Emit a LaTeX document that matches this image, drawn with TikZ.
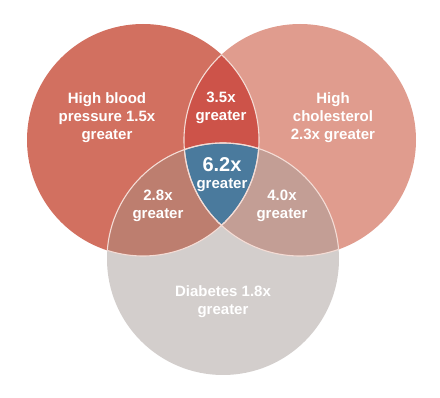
\documentclass[tikz,border=0pt]{standalone}
\usepackage{fontspec}
\setmainfont{Liberation Sans}
\definecolor{bpfill}{HTML}{D27060}
\definecolor{chfill}{HTML}{E09C8E}
\definecolor{dbfill}{HTML}{D3CECC}
\definecolor{bpch}{HTML}{CD5349}
\definecolor{bpdb}{HTML}{BD7E6F}
\definecolor{chdb}{HTML}{C39E95}
\definecolor{allthree}{HTML}{4A7A9D}
\definecolor{rimcol}{HTML}{F4DCD5}
\tikzset{
	rim/.style={draw=rimcol, line width=1.1pt}, % thin light edge where the sets cross
	venntext/.style={text=white, font=\bfseries\fontsize{15}{18}\selectfont, align=center}, % labels in the sets
	bigtext/.style={venntext, font=\bfseries\fontsize{15}{17}\selectfont}, % centre label
}
\begin{document}
\begin{tikzpicture}[x=1pt, y=-1pt]
	\useasboundingbox (0,0) rectangle (440,398);
	\def\rad{116pt}
	\coordinate (bp) at (143,140);
	\coordinate (ch) at (300,140);
	\coordinate (db) at (223,259);
	% the three sets
	\fill[bpfill] (bp) circle (\rad);
	\fill[chfill] (ch) circle (\rad);
	\fill[dbfill] (db) circle (\rad);
	% overlaps
	\begin{scope}
		\clip (bp) circle (\rad);
		\fill[bpdb] (db) circle (\rad);
		\fill[bpch] (ch) circle (\rad);
		\clip (ch) circle (\rad);
		\fill[allthree] (db) circle (\rad);
	\end{scope}
	\begin{scope}
		\clip (ch) circle (\rad);
		\fill[chdb] (db) circle (\rad);
		\clip (bp) circle (\rad);
		\fill[allthree] (db) circle (\rad);
	\end{scope}
	% edges, only inside the other sets
	\begin{scope}
		\clip (bp) circle (\rad);
		\draw[rim] (ch) circle (\rad) (db) circle (\rad);
	\end{scope}
	\begin{scope}
		\clip (ch) circle (\rad);
		\draw[rim] (bp) circle (\rad) (db) circle (\rad);
	\end{scope}
	\begin{scope}
		\clip (db) circle (\rad);
		\draw[rim] (bp) circle (\rad) (ch) circle (\rad);
	\end{scope}
	% labels
	\node[venntext] (bptext) at (107,118) {High blood\\pressure 1.5x\\greater};
	\node[venntext] (chtext) at (333,118) {High\\cholesterol\\2.3x greater};
	\node[venntext] (dbtext) at (223,302) {Diabetes 1.8x\\greater};
	\node[venntext] (bpchtext) at (221,108) {3.5x\\greater};
	\node[venntext] (bpdbtext) at (158,206) {2.8x\\greater};
	\node[venntext] (chdbtext) at (282,206) {4.0x\\greater};
	\node[bigtext] (alltext) at (222,175) {{\fontsize{20}{20}\selectfont 6.2x}\\greater};
\end{tikzpicture}
\end{document}
